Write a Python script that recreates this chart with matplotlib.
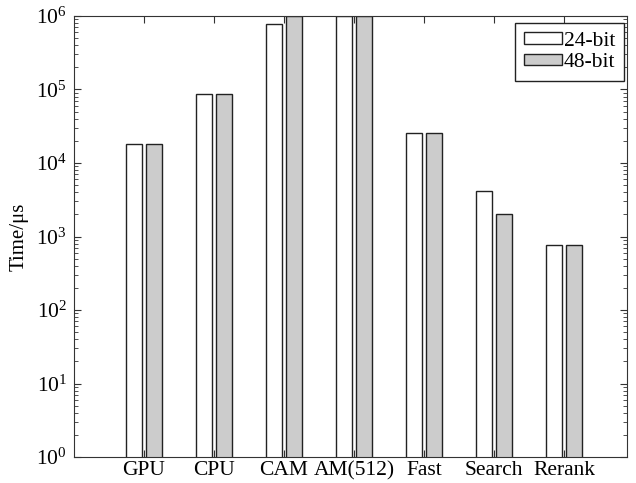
import numpy as np
import matplotlib
matplotlib.use('Agg')
import matplotlib.pyplot as plt
from matplotlib.ticker import LogLocator, NullFormatter

plt.rcParams['font.family'] = ['Liberation Serif', 'DejaVu Serif']
plt.rcParams['mathtext.fontset'] = 'stix'

categories = ['GPU', 'CPU', 'CAM', 'AM(512)', 'Fast', 'Search', 'Rerank']
time_24bit = [1.81e4, 8.7e4, 7.7e5, 1.0e6, 2.58e4, 4.2e3, 7.7e2]
time_48bit = [1.81e4, 8.7e4, 1.0e6, 1.0e6, 2.58e4, 2.03e3, 7.7e2]

fig = plt.figure(figsize=(6.36, 4.83), dpi=100)
ax = fig.add_axes([0.1164, 0.0538, 0.8694, 0.9131])

x = np.arange(1, len(categories) + 1)
w = 0.235
ax.bar(x - 0.145, time_24bit, w, color='white', edgecolor='#222222',
       linewidth=1.0, label='24-bit')
ax.bar(x + 0.145, time_48bit, w, color='#cccccc', edgecolor='#222222',
       linewidth=1.0, label='48-bit')

ax.set_yscale('log')
ax.set_ylim(1, 1e6)
ax.set_xlim(0.0, 7.9)
ax.set_xticks(x)
ax.set_xticklabels(categories, fontsize=15.5)
ax.yaxis.set_major_locator(LogLocator(base=10, numticks=10))
ax.yaxis.set_minor_locator(LogLocator(base=10, subs=np.arange(2, 10), numticks=20))
ax.yaxis.set_minor_formatter(NullFormatter())
ax.tick_params(axis='both', which='both', direction='in', top=True, right=True,
               color='#333333')
ax.tick_params(axis='both', which='major', length=5, labelsize=15.5)
ax.tick_params(axis='y', which='minor', length=3)
ax.tick_params(axis='x', pad=3)
ax.tick_params(axis='y', pad=5)
ax.set_ylabel('Time/μs', fontsize=15)
ax.yaxis.set_label_coords(-0.083, 0.5)
for s in ax.spines.values():
    s.set_color('#333333')

leg = ax.legend(loc='upper right', bbox_to_anchor=(0.9946, 0.984),
                fontsize=15.5, frameon=True, fancybox=False,
                handlelength=1.75, handleheight=0.45, handletextpad=0.1,
                borderpad=0.4, borderaxespad=0, labelspacing=0.12)
leg.get_frame().set_edgecolor('#222222')
leg.get_frame().set_linewidth(1.0)
leg.get_frame().set_alpha(1)

fig.savefig('out.png', dpi=100)
